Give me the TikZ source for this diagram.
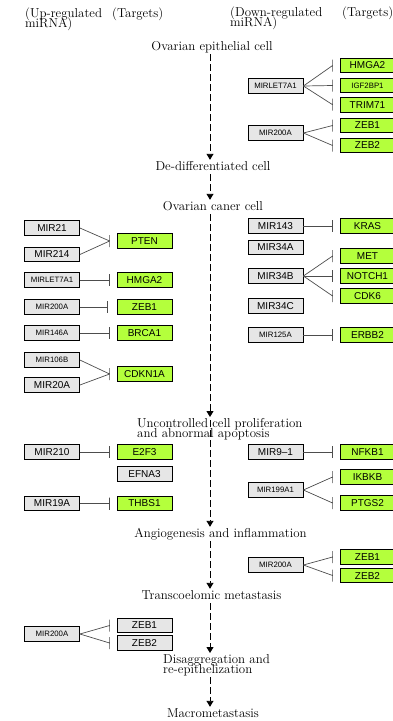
\documentclass[tikz,border=0pt]{standalone}
\usepackage{fontspec}
\newfontfamily\boxfont{Liberation Sans}
\usepackage{tikz}
\usetikzlibrary{arrows.meta, positioning, calc, shadows}
\definecolor{genegreen}{HTML}{B4FF3C}
\definecolor{mirgray}{HTML}{E6E6E6}
\definecolor{edgegray}{HTML}{4D4D4D}
\lineskiplimit=-100pt

\begin{document}
\begin{tikzpicture}[x=1pt, y=-1pt,
    box/.style={rectangle, draw=black, line width=0.8pt, fill=#1, minimum width=55pt, minimum height=14.5pt, inner sep=0pt, font=\boxfont\fontsize{10}{10}\selectfont, drop shadow={shadow xshift=0.7pt, shadow yshift=-0.7pt, fill=black!50, opacity=1}},
    gene/.style={box=genegreen},
    grey/.style={box=mirgray},
    small/.style={font=\boxfont\fontsize{7.8}{8}\selectfont},
    stage/.style={font=\fontsize{12.9}{10}\selectfont, inner sep=1pt, text height=9pt, text depth=3pt, anchor=base},
    stagetwo/.style={font=\fontsize{12.9}{10.6}\selectfont, inner sep=1pt, align=left, anchor=north west},
    hdr/.style={font=\fontsize{12.9}{10.6}\selectfont, inner sep=0pt, align=left, anchor=north west},
    flow/.style={draw=black, line width=0.9pt, dash pattern=on 7pt off 3pt, -{Triangle[width=7pt, length=6pt]}},
    inhib/.style={draw=edgegray, line width=0.7pt},
]
\useasboundingbox (0,0) rectangle (392,721);

% column headings
\node[hdr] (hup) at (25,7.5) {(Up-regulated\\miRNA)};
\node[hdr] (htl) at (112,7.5) {(Targets)};
\node[hdr] (hdown) at (230,6.5) {(Down-regulated\\miRNA)};
\node[hdr] (htr) at (342,6.5) {(Targets)};

% stages
\coordinate (ax) at (210,0);
\node[stage] (s1) at (212,50) {Ovarian epithelial cell};
\node[stage] (s2) at (213,170) {De-differentiated cell};
\node[stage] (s3) at (213,210) {Ovarian caner cell};
\node[stagetwo] (s4) at (136,417) {Uncontrolled cell proliferation\\and abnormal apoptosis};
\node[stage] (s5) at (220.5,537) {Angiogenesis and inflammation};
\node[stage] (s6) at (211.5,599) {Transcoelomic metastasis};
\node[stagetwo] (s7) at (162,653) {Disaggregation and\\re-epithelization};
\node[stage] (s8) at (213,717) {Macrometastasis};

\draw[flow] (s1.south -| ax) -- (s2.north -| ax);
\draw[flow] (s2.south -| ax) -- (s3.north -| ax);
\draw[flow] (s3.south -| ax) -- (s4.north -| ax);
\draw[flow] ($(s4.north -| ax)+(0,3)$) -- (s5.north -| ax);
\draw[flow] (s5.south -| ax) -- (s6.north -| ax);
\draw[flow] (s6.south -| ax) -- (s7.north -| ax);
\draw[flow] (s7.south -| ax) -- (s8.north -| ax);

% epithelial -> de-differentiated
\node[grey, small] (aLet7) at (275.5,86) {MIRLET7A1};
\node[grey, small] (a200a) at (275.5,133) {MIR200A};
\node[gene] (aHmga2) at (367.5,65.5) {HMGA2};
\node[gene, small] (aIgf) at (367.5,85.5) {IGF2BP1};
\node[gene] (aTrim) at (367.5,104.7) {TRIM71};
\node[gene] (aZeb1) at (367.5,125.5) {ZEB1};
\node[gene] (aZeb2) at (367.5,145.5) {ZEB2};

\draw[inhib] (aLet7.east) -- ([xshift=-7pt]aHmga2.west) -- ++(0,-6) -- ++(0,12);
\draw[inhib] (aLet7.east) -- ([xshift=-7pt]aIgf.west) -- ++(0,-6) -- ++(0,12);
\draw[inhib] (aLet7.east) -- ([xshift=-7pt]aTrim.west) -- ++(0,-6) -- ++(0,12);
\draw[inhib] (a200a.east) -- ([xshift=-7pt]aZeb1.west) -- ++(0,-6) -- ++(0,12);
\draw[inhib] (a200a.east) -- ([xshift=-7pt]aZeb2.west) -- ++(0,-6) -- ++(0,12);

% ovarian cancer cell
\node[grey] (bMir21) at (52,228) {MIR21};
\node[grey] (bMir214) at (52,254.5) {MIR214};
\node[gene] (bPten) at (144.5,241) {PTEN};
\node[grey, small] (bLet7) at (52,280) {MIRLET7A1};
\node[gene] (bHmga2) at (144.5,280) {HMGA2};
\node[grey, small] (b200a) at (52,307) {MIR200A};
\node[gene] (bZeb1) at (144.5,307) {ZEB1};
\node[grey, small] (b146a) at (52,333) {MIR146A};
\node[gene] (bBrca1) at (144.5,333) {BRCA1};
\node[grey, small] (b106b) at (52,360) {MIR106B};
\node[grey] (bMir20a) at (52,385) {MIR20A};
\node[gene] (bCdkn) at (144.5,374) {CDKN1A};

\node[grey] (bMir143) at (275.5,226) {MIR143};
\node[gene] (bKras) at (367.5,226) {KRAS};
\node[grey] (bMir34a) at (275.5,247.5) {MIR34A};
\node[gene] (bMet) at (367.5,256) {MET};
\node[grey] (bMir34b) at (275.5,276) {MIR34B};
\node[gene] (bNotch) at (367.5,276) {NOTCH1};
\node[gene] (bCdk6) at (367.5,296) {CDK6};
\node[grey] (bMir34c) at (275.5,306) {MIR34C};
\node[grey, small] (b125a) at (275.5,335) {MIR125A};
\node[gene] (bErbb2) at (367.5,335) {ERBB2};

\draw[inhib] (bMir21.east) -- ([xshift=-7pt]bPten.west) -- ++(0,-6) -- ++(0,12);
\draw[inhib] (bMir214.east) -- ([xshift=-7pt]bPten.west);
\draw[inhib] (bLet7.east) -- ([xshift=-7pt]bHmga2.west) -- ++(0,-6) -- ++(0,12);
\draw[inhib] (b200a.east) -- ([xshift=-9pt]bZeb1.west) -- ++(0,-6) -- ++(0,12);
\draw[inhib] (b146a.east) -- ([xshift=-7pt]bBrca1.west) -- ++(0,-6) -- ++(0,12);
\draw[inhib] (b106b.east) -- ([xshift=-7pt]bCdkn.west) -- ++(0,-6) -- ++(0,12);
\draw[inhib] (bMir20a.east) -- ([xshift=-7pt]bCdkn.west);
\draw[inhib] (bMir143.east) -- ([xshift=-7pt]bKras.west) -- ++(0,-6) -- ++(0,12);
\draw[inhib] (bMir34b.east) -- ([xshift=-7pt]bMet.west) -- ++(0,-6) -- ++(0,12);
\draw[inhib] (bMir34b.east) -- ([xshift=-7pt]bNotch.west) -- ++(0,-6) -- ++(0,12);
\draw[inhib] (bMir34b.east) -- ([xshift=-7pt]bCdk6.west) -- ++(0,-6) -- ++(0,12);
\draw[inhib] (b125a.east) -- ([xshift=-7pt]bErbb2.west) -- ++(0,-6) -- ++(0,12);

% proliferation -> angiogenesis
\node[grey] (cMir210) at (52,452) {MIR210};
\node[gene] (cE2f3) at (144.5,452) {E2F3};
\node[grey] (cEfna3) at (144.5,474) {EFNA3};
\node[grey] (cMir19a) at (52,503.5) {MIR19A};
\node[gene] (cThbs1) at (144.5,503.5) {THBS1};
\node[grey] (cMir9) at (275.5,452) {MIR9–1};
\node[gene] (cNfkb1) at (367.5,452) {NFKB1};
\node[gene] (cIkbkb) at (367.5,477) {IKBKB};
\node[grey, small] (c199a) at (275.5,490) {MIR199A1};
\node[gene] (cPtgs2) at (367.5,503) {PTGS2};

\draw[inhib] (cMir210.east) -- ([xshift=-7pt]cE2f3.west) -- ++(0,-6) -- ++(0,12);
\draw[inhib] (cMir19a.east) -- ([xshift=-7pt]cThbs1.west) -- ++(0,-6) -- ++(0,12);
\draw[inhib] (cMir9.east) -- ([xshift=-7pt]cNfkb1.west) -- ++(0,-6) -- ++(0,12);
\draw[inhib] (c199a.east) -- ([xshift=-7pt]cIkbkb.west) -- ++(0,-6) -- ++(0,12);
\draw[inhib] (c199a.east) -- ([xshift=-7pt]cPtgs2.west) -- ++(0,-6) -- ++(0,12);

% angiogenesis -> transcoelomic
\node[grey, small] (d200a) at (275.5,565) {MIR200A};
\node[gene] (dZeb1) at (367.5,557) {ZEB1};
\node[gene] (dZeb2) at (367.5,575.5) {ZEB2};

\draw[inhib] (d200a.east) -- ([xshift=-7pt]dZeb1.west) -- ++(0,-6) -- ++(0,12);
\draw[inhib] (d200a.east) -- ([xshift=-7pt]dZeb2.west) -- ++(0,-6) -- ++(0,12);

% transcoelomic -> disaggregation
\node[grey, small] (e200a) at (52,634) {MIR200A};
\node[grey] (eZeb1) at (144.5,625.5) {ZEB1};
\node[grey] (eZeb2) at (144.5,643) {ZEB2};

\draw[inhib] (e200a.east) -- ([xshift=-7pt]eZeb1.west) -- ++(0,-6) -- ++(0,12);
\draw[inhib] (e200a.east) -- ([xshift=-7pt]eZeb2.west) -- ++(0,-6) -- ++(0,12);

\end{tikzpicture}
\end{document}
